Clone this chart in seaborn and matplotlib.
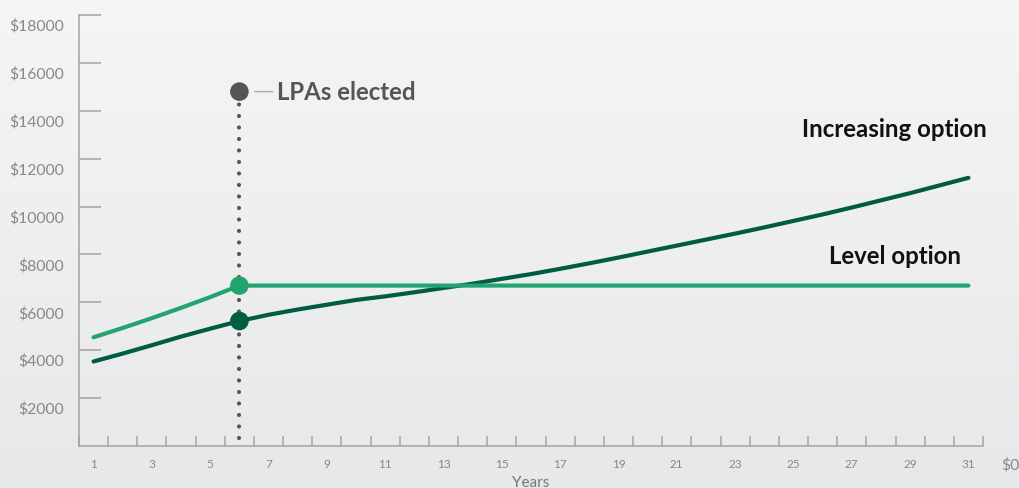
import numpy as np
import pandas as pd
import matplotlib.pyplot as plt
import seaborn as sns
from matplotlib.colors import LinearSegmentedColormap
from matplotlib.transforms import ScaledTranslation

# values
years = list(range(1, 32))
increasing = [3530, 3860, 4210, 4570, 4900, 5220, 5480, 5700, 5900, 6100,
              6250, 6420, 6600, 6780, 6980, 7180, 7400, 7630, 7870, 8120,
              8370, 8620, 8870, 9130, 9400, 9670, 9960, 10260, 10560, 10880,
              11200]
level = [4540, 4930, 5340, 5770, 6220, 6700, 6700, 6700, 6700, 6700,
         6700, 6700, 6700, 6700, 6700, 6700, 6700, 6700, 6700, 6700,
         6700, 6700, 6700, 6700, 6700, 6700, 6700, 6700, 6700, 6700,
         6700]
elected_year = 6
lpa_value = 14800
lpa_base = 350
y_ticks = [2000, 4000, 6000, 8000, 10000, 12000, 14000, 16000, 18000]
y_labels = ['$2000', '$4000', '$6000', '$8000', '$10000', '$12000',
            '$14000', '$16000', '$18000']
x_labels = list(range(1, 32, 2))

LEVEL = '#22a471'
INCR = '#005c42'
GREY = '#555555'
AXIS = '#a3a3a3'

sns.set_style('white')
plt.rcParams['font.family'] = ['Lato', 'DejaVu Sans']

fig = plt.figure(figsize=(10.19, 4.89), dpi=100)

# soft vertical gradient background
bg = fig.add_axes([0, 0, 1, 1], zorder=-10)
cmap = LinearSegmentedColormap.from_list('bg', ['#e7e8e9', '#f5f5f5'])
bg.imshow(np.linspace(0, 1, 256).reshape(-1, 1), aspect='auto', cmap=cmap,
          origin='lower', extent=[0, 1, 0, 1])
bg.axis('off')

ax = fig.add_axes([79 / 1019, 42 / 489, 904 / 1019, 431 / 489])
ax.set_facecolor('none')

df = pd.DataFrame({
    'Year': years * 2,
    'Value': increasing + level,
    'Option': ['Increasing'] * len(years) + ['Level'] * len(years),
})
sns.lineplot(data=df, x='Year', y='Value', hue='Option',
             palette={'Increasing': INCR, 'Level': LEVEL}, linewidth=3,
             legend=False, ax=ax, zorder=3)

# dotted election marker
ax.plot([elected_year, elected_year], [lpa_base, lpa_value], color=GREY,
        lw=3, linestyle=(0, (0.01, 2.75)), dash_capstyle='round', zorder=2)

dots = pd.DataFrame({
    'Year': [elected_year, elected_year, elected_year],
    'Value': [lpa_value, level[elected_year - 1], increasing[elected_year - 1]],
    'Kind': ['lpa', 'level', 'incr'],
})
sns.scatterplot(data=dots, x='Year', y='Value', hue='Kind',
                palette={'lpa': GREY, 'level': LEVEL, 'incr': INCR},
                s=180, edgecolor='none', legend=False, ax=ax, zorder=5)

ax.annotate('LPAs elected', xy=(elected_year, lpa_value), xytext=(38, 0),
            textcoords='offset pixels', ha='left', va='center',
            fontsize=17.3, fontweight='bold', color=GREY,
            arrowprops=dict(arrowstyle='-', color='#aaaaaa', lw=1,
                            shrinkA=1, shrinkB=11, relpos=(0, 0.5)))

ax.text(31.64, 13250, 'Increasing option', ha='right', va='center',
        fontsize=17.3, fontweight='bold', color='#111111')
ax.text(30.75, 7960, 'Level option', ha='right', va='center',
        fontsize=17.3, fontweight='bold', color='#111111')

ax.set_xlim(0.5, 31.5)
ax.set_ylim(0, 18000)

ax.set_xticks(x_labels)
ax.set_xticklabels([str(v) for v in x_labels])
ax.set_xticks(np.arange(0.5, 32, 1), minor=True)
ax.tick_params(axis='x', which='major', bottom=True, length=0, pad=9,
               labelsize=8.5, labelcolor='#888888')
ax.tick_params(axis='x', which='minor', bottom=True, direction='in',
               length=7.2, width=1.1, color=AXIS)

ax.set_yticks(y_ticks)
ax.set_yticklabels(y_labels)
ax.tick_params(axis='y', which='major', left=True, direction='in',
               length=15.8, width=1.1, color=AXIS, pad=10.8, labelsize=11.3,
               labelcolor='#888888')
shift = ScaledTranslation(0, -9 / 100, fig.dpi_scale_trans)
for lab in ax.get_yticklabels():
    lab.set_transform(lab.get_transform() + shift)

for side in ['top', 'right']:
    ax.spines[side].set_visible(False)
for side in ['left', 'bottom']:
    ax.spines[side].set_color(AXIS)
    ax.spines[side].set_linewidth(1.1)

ax.set_xlabel('Years', fontsize=11, color='#777777', labelpad=4)
ax.set_ylabel('')

fig.text(1001 / 1019, 1 - 465 / 489, '$0', ha='left', va='center',
         fontsize=11.3, color='#888888')

fig.savefig('out.png', dpi=100)
